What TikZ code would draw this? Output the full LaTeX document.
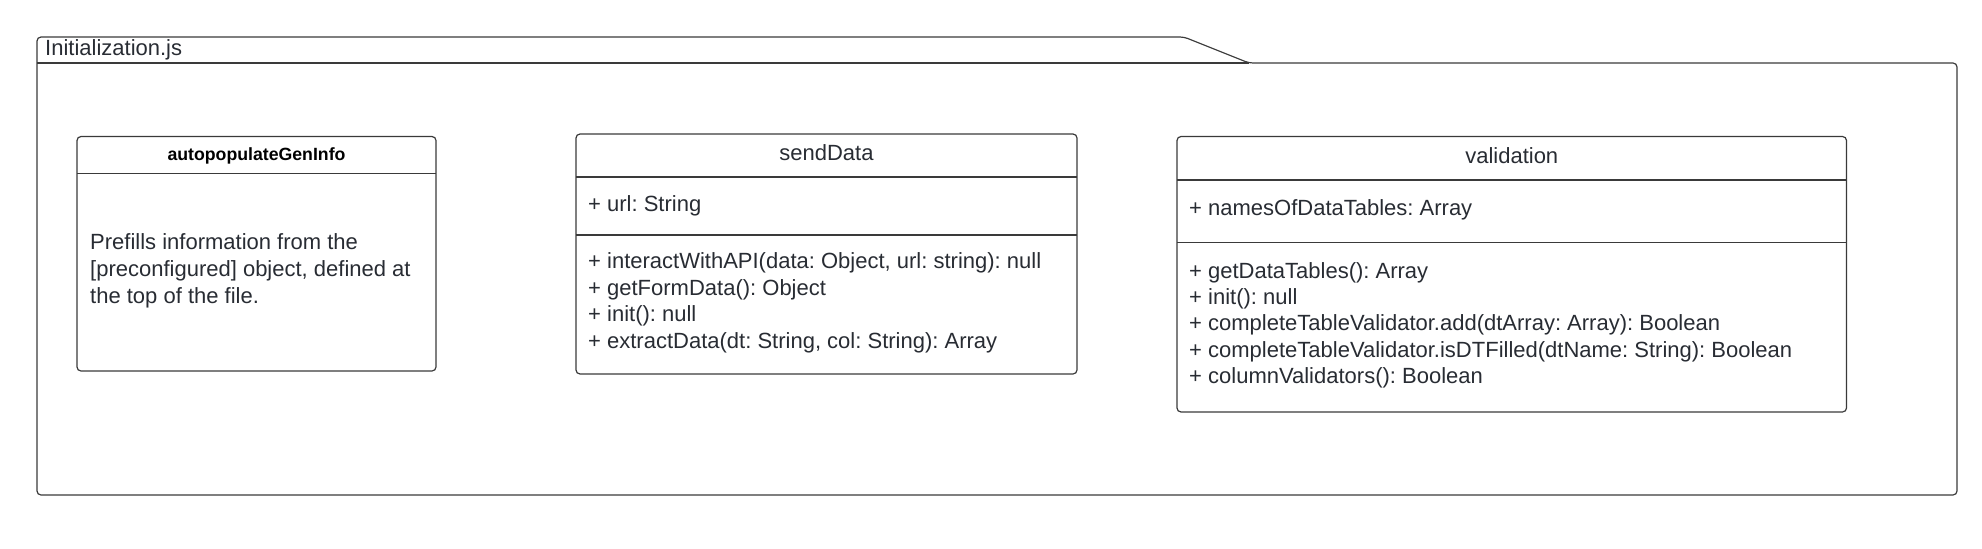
\documentclass[tikz,border=0pt]{standalone}
\usepackage{fontspec}
\setmainfont{Liberation Sans}
\frenchspacing
\definecolor{txt}{HTML}{282C33}
\definecolor{ln}{HTML}{3A3A3A}
\begin{document}
\begin{tikzpicture}[x=1pt,y=-1pt,
  pkgline/.style={draw=ln, line width=1.2pt},
  classbox/.style={draw=ln, line width=1.2pt, rounded corners=4pt, anchor=north west, inner sep=0pt, outer sep=0pt},
  lbl/.style={anchor=base west, inner sep=0pt, text=txt, font=\fontsize{22}{26}\selectfont\frenchspacing},
  ttl/.style={anchor=base, inner sep=0pt, text=txt, font=\fontsize{22}{26}\selectfont},
  boldttl/.style={anchor=base, inner sep=0pt, text=black, font=\fontsize{17.7}{21}\selectfont\bfseries},
  sepline/.style={draw=ln, line width=1.2pt}]
\useasboundingbox (0,0) rectangle (1982,549);

% package frame
\draw[pkgline, rounded corners=4pt] (37,250) -- (37,37) -- (1184,37) -- (1249,63) -- (1957,63) -- (1957,495) -- (37,495) -- cycle;
\draw[pkgline] (37,63) -- (1249,63);
\node[lbl] (pkg) at (45,55.5) {Initialization.js};

% autopopulateGenInfo
\node[classbox, minimum width=359pt, minimum height=234.5pt] (ag) at (77,136.5) {};
\draw[sepline] (ag.west |- 0,173.5) -- (ag.east |- 0,173.5);
\node[boldttl] (agt) at (256.5,160) {autopopulateGenInfo};
\node[lbl] (ag1) at (90,249.5) {Prefills information from the};
\node[lbl] (ag2) at (90,276.5) {[preconfigured] object, defined at};
\node[lbl] (ag3) at (90,303.5) {the top of the file.};

% sendData
\node[classbox, minimum width=501pt, minimum height=240pt] (sd) at (576,134) {};
\draw[sepline] (sd.west |- 0,177) -- (sd.east |- 0,177);
\draw[sepline] (sd.west |- 0,235) -- (sd.east |- 0,235);
\node[ttl] (sdt) at (826.5,160) {sendData};
\node[lbl] (sda) at (588,211) {+ url: String};
\node[lbl] (sdm1) at (588,268.5) {+ interactWithAPI(data: Object, url: string): null};
\node[lbl] (sdm2) at (588,295) {+ getFormData(): Object};
\node[lbl] (sdm3) at (588,321.5) {+ init(): null};
\node[lbl] (sdm4) at (588,348) {+ extractData(dt: String, col: String): Array};

% validation
\node[classbox, minimum width=669.5pt, minimum height=275.5pt] (va) at (1177,136.5) {};
\draw[sepline] (va.west |- 0,180) -- (va.east |- 0,180);
\draw[sepline] (va.west |- 0,242.5) -- (va.east |- 0,242.5);
\node[ttl] (vat) at (1511.75,163.3) {validation};
\node[lbl] (vaa) at (1189,215) {+ namesOfDataTables: Array};
\node[lbl] (vam1) at (1189,278) {+ getDataTables(): Array};
\node[lbl] (vam2) at (1189,304.3) {+ init(): null};
\node[lbl] (vam3) at (1189,330.7) {+ completeTableValidator.add(dtArray: Array): Boolean};
\node[lbl] (vam4) at (1189,357) {+ completeTableValidator.isDTFilled(dtName: String): Boolean};
\node[lbl] (vam5) at (1189,383.3) {+ columnValidators(): Boolean};
\end{tikzpicture}
\end{document}
